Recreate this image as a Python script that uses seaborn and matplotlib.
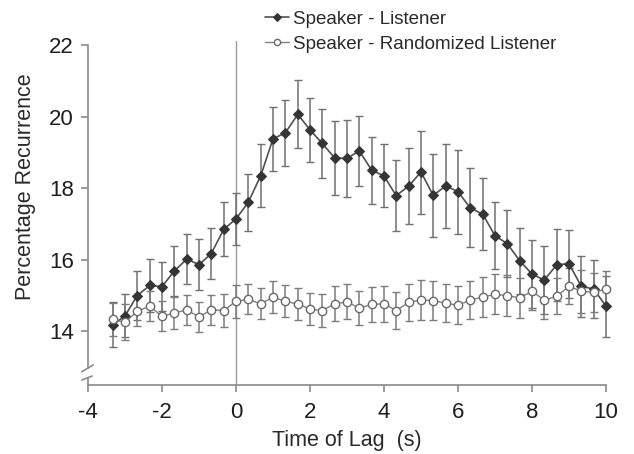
import numpy as np
import matplotlib
matplotlib.use("Agg")
import matplotlib.pyplot as plt
import seaborn as sns

# time lag (s), one point every 1/3 s
lag = [-3.33, -3.0, -2.67, -2.33, -2.0, -1.67, -1.33, -1.0, -0.67, -0.33,
       0.0, 0.33, 0.67, 1.0, 1.33, 1.67, 2.0, 2.33, 2.67, 3.0,
       3.33, 3.67, 4.0, 4.33, 4.67, 5.0, 5.33, 5.67, 6.0, 6.33,
       6.67, 7.0, 7.33, 7.67, 8.0, 8.33, 8.67, 9.0, 9.33, 9.67, 10.0]

listener = [14.18, 14.43, 15.0, 15.28, 15.25, 15.68, 16.02, 15.86, 16.17, 16.85,
            17.14, 17.6, 18.35, 19.38, 19.54, 20.06, 19.63, 19.25, 18.84, 18.83,
            19.04, 18.5, 18.34, 17.79, 18.06, 18.45, 17.8, 18.06, 17.9, 17.45,
            17.27, 16.67, 16.45, 15.97, 15.6, 15.43, 15.86, 15.89, 15.26, 15.18, 14.7]
listener_err = [0.63, 0.6, 0.68, 0.73, 0.68, 0.69, 0.71, 0.72, 0.72, 0.75,
                0.73, 0.79, 0.87, 0.9, 0.92, 0.95, 0.9, 0.96, 1.04, 1.08,
                0.98, 0.94, 0.88, 1.0, 1.06, 1.16, 1.16, 1.16, 1.17, 1.1,
                1.0, 0.94, 0.93, 0.92, 0.96, 0.95, 1.0, 0.95, 0.85, 0.8, 0.85]

randomized = [14.33, 14.25, 14.56, 14.7, 14.42, 14.51, 14.6, 14.4, 14.6, 14.58,
              14.84, 14.89, 14.77, 14.95, 14.84, 14.76, 14.62, 14.58, 14.77, 14.82,
              14.65, 14.75, 14.77, 14.58, 14.81, 14.87, 14.86, 14.78, 14.73, 14.87,
              14.96, 15.03, 15.0, 14.93, 15.12, 14.87, 14.98, 15.26, 15.12, 15.09, 15.18]
randomized_err = [0.46, 0.5, 0.42, 0.42, 0.42, 0.45, 0.42, 0.43, 0.42, 0.45,
                  0.46, 0.42, 0.43, 0.45, 0.45, 0.44, 0.45, 0.47, 0.49, 0.49,
                  0.48, 0.48, 0.5, 0.51, 0.51, 0.55, 0.55, 0.53, 0.53, 0.54,
                  0.57, 0.56, 0.56, 0.56, 0.52, 0.52, 0.5, 0.5, 0.6, 0.55, 0.5]

x_ticks = [-4, -2, 0, 2, 4, 6, 8, 10]
y_ticks = [14, 16, 18, 20, 22]

sns.set_style("ticks")
plt.rcParams['font.family'] = ['Liberation Sans', 'DejaVu Sans']

fig = plt.figure(figsize=(6.34, 4.54), dpi=100)
ax = fig.add_axes([0.1388, 0.152, 0.817, 0.7608])

axis_col = '#8a8a8a'

# vertical reference line at zero lag
ax.plot([0, 0], [12.5, 22.1], color='#9a9a9a', lw=1.0, zorder=1)

# error bars
ax.errorbar(lag, listener, yerr=listener_err, fmt='none', ecolor='#707070',
            elinewidth=1.1, capsize=3.2, capthick=1.0, zorder=2, clip_on=False)
ax.errorbar(lag, randomized, yerr=randomized_err, fmt='none', ecolor='#7c7c7c',
            elinewidth=1.1, capsize=3.2, capthick=1.0, zorder=2, clip_on=False)

sns.lineplot(x=lag, y=listener, ax=ax, color='#505050', lw=1.2, marker='D',
             markersize=5.2, markerfacecolor='#353535', markeredgecolor='#353535',
             zorder=3, clip_on=False, label='Speaker - Listener')
sns.lineplot(x=lag, y=randomized, ax=ax, color='#808080', lw=1.0, marker='o',
             markersize=6, markerfacecolor='white', markeredgecolor='#6a6a6a',
             markeredgewidth=1.0, zorder=4, clip_on=False,
             label='Speaker - Randomized Listener')

ax.set_xlim(-4, 10)
ax.set_ylim(12.5, 22.15)
ax.set_xticks(x_ticks)
ax.set_yticks(y_ticks)
ax.set_xticklabels([str(t) for t in x_ticks])

sns.despine(ax=ax)
for side in ['left', 'bottom']:
    ax.spines[side].set_color(axis_col)
    ax.spines[side].set_linewidth(1.2)
ax.spines['left'].set_bounds(12.98, 22)
ax.spines['bottom'].set_bounds(-4, 10)

# axis break on the y axis
ytr = ax.get_yaxis_transform()
ax.plot([0, 0], [12.5, 12.7], color=axis_col, lw=1.2, transform=ytr, clip_on=False)
ax.plot([-0.012, 0.01], [12.87, 13.06], color=axis_col, lw=1.2, transform=ytr, clip_on=False)
ax.plot([-0.012, 0.008], [12.64, 12.75], color=axis_col, lw=1.2, transform=ytr, clip_on=False)

ax.tick_params(axis='both', colors=axis_col, length=5, width=1.2,
               labelcolor='#1e1e1e', labelsize=16)
ax.tick_params(axis='x', pad=7)
ax.tick_params(axis='y', pad=5)

ax.set_xlabel('Time of Lag  (s)', fontsize=15.5, color='#2a2a2a', labelpad=5)
ax.set_ylabel('Percentage Recurrence', fontsize=15.5, color='#2a2a2a')
ax.yaxis.set_label_coords(-0.1, 0.575)

ax.legend(loc='upper left', bbox_to_anchor=(0.418, 0.976),
          bbox_transform=fig.transFigure, frameon=False, fontsize=13.5,
          handlelength=1.3, handletextpad=0.2, borderpad=0, borderaxespad=0,
          labelspacing=0.4, markerscale=0.75, labelcolor='#2a2a2a')

fig.savefig('out.png', dpi=100)
